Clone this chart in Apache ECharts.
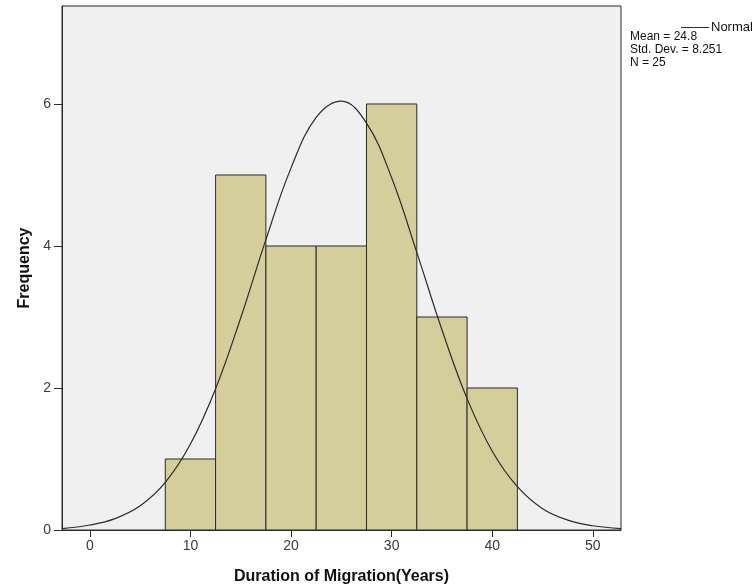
<!DOCTYPE html>
<html>
<head>
<meta charset="utf-8">
<script src="https://cdn.jsdelivr.net/npm/echarts@6/dist/echarts.min.js"></script>
<style>
html,body{margin:0;padding:0;background:#fff;}
#c{width:754px;height:588px;}
</style>
</head>
<body>
<div id="c"></div>
<script>
// Histogram bins (years) and frequencies
var binStart = [7.5, 12.5, 17.5, 22.5, 27.5, 32.5, 37.5];
var binEnd   = [12.5, 17.5, 22.5, 27.5, 32.5, 37.5, 42.5];
var counts   = [1, 5, 4, 4, 6, 3, 2];

// Normal curve
var curveX = [-2.77, 0, 2.5, 5, 7.5, 10, 12.5, 15, 17.5, 20, 22.5, 25, 27.5, 30, 32.5, 35, 37.5, 40, 42.5, 45, 47.5, 50, 52.8];
var curveY = [0.02, 0.07, 0.16, 0.34, 0.67, 1.21, 1.99, 2.99, 4.09, 5.10, 5.81, 6.04, 5.73, 4.96, 3.91, 2.82, 1.85, 1.11, 0.61, 0.30, 0.14, 0.06, 0.02];

var xTicks = [0, 10, 20, 30, 40, 50];
var yTicks = [0, 2, 4, 6];
var statLines = ['Mean = 24.8', 'Std. Dev. = 8.251', 'N = 25'];

var chart = echarts.init(document.getElementById('c'), null, {renderer: 'canvas'});

var barData = binStart.map(function (s, i) { return [s, binEnd[i], counts[i]]; });
var curveData = curveX.map(function (x, i) { return [x, curveY[i]]; });

var narrow = "'Liberation Sans Narrow', 'Liberation Sans', Arial, sans-serif";
var sans = "'Liberation Sans', Arial, sans-serif";

chart.setOption({
  animation: false,
  backgroundColor: '#ffffff',
  grid: {
    left: 62, right: 133, top: 6, bottom: 58,
    outerBoundsMode: 'none', containLabel: false,
    show: true, backgroundColor: '#f0f0f0',
    borderColor: '#2b2b2b', borderWidth: 1
  },
  legend: {
    data: ['Normal'],
    left: 676, top: 16,
    icon: 'rect', itemWidth: 28, itemHeight: 1,
    textStyle: {fontFamily: sans, fontSize: 13, color: '#111', padding: [0, 0, 0, -3]}
  },
  graphic: [{
    type: 'text', left: 630, top: 30,
    style: {
      text: statLines.join('\n'),
      font: '12px ' + sans, fill: '#111', lineHeight: 13
    }
  }],
  xAxis: {
    type: 'value', min: -2.77, max: 52.8,
    name: 'Duration of Migration(Years)', nameLocation: 'middle', nameGap: 39,
    nameTextStyle: {fontFamily: sans, fontWeight: 'bold', fontSize: 16, color: '#111'},
    axisLine: {show: true, onZero: false, lineStyle: {color: '#2b2b2b', width: 1}},
    axisTick: {show: true, length: 7, customValues: xTicks, lineStyle: {color: '#2b2b2b'}},
    axisLabel: {customValues: xTicks, margin: 9, fontFamily: narrow, fontSize: 14, color: '#3a3a3a'},
    splitLine: {show: false}
  },
  yAxis: {
    type: 'value', min: 0, max: 7.38,
    name: 'Frequency', nameLocation: 'middle', nameGap: 29, nameRotate: 90,
    nameTextStyle: {fontFamily: sans, fontWeight: 'bold', fontSize: 16, color: '#111'},
    axisLine: {show: true, onZero: false, lineStyle: {color: '#2b2b2b', width: 1}},
    axisTick: {show: true, length: 8, customValues: yTicks, lineStyle: {color: '#2b2b2b'}},
    axisLabel: {customValues: yTicks, margin: 11, fontFamily: narrow, fontSize: 14, color: '#3a3a3a'},
    splitLine: {show: false}
  },
  series: [{
    type: 'custom',
    name: 'Histogram',
    data: barData,
    encode: {x: [0, 1], y: 2},
    renderItem: function (params, api) {
      var p0 = api.coord([api.value(0), api.value(2)]);
      var p1 = api.coord([api.value(1), 0]);
      return {
        type: 'rect',
        shape: {x: p0[0], y: p0[1], width: p1[0] - p0[0], height: p1[1] - p0[1]},
        style: {fill: '#d4cf9a', stroke: '#2a2a2a', lineWidth: 1}
      };
    },
    z: 2
  }, {
    type: 'line',
    name: 'Normal',
    data: curveData,
    smooth: 0.4,
    showSymbol: false,
    symbol: 'none',
    lineStyle: {color: '#2b2b2b', width: 1.2},
    itemStyle: {color: '#2b2b2b'},
    z: 3
  }]
});
</script>
</body>
</html>
